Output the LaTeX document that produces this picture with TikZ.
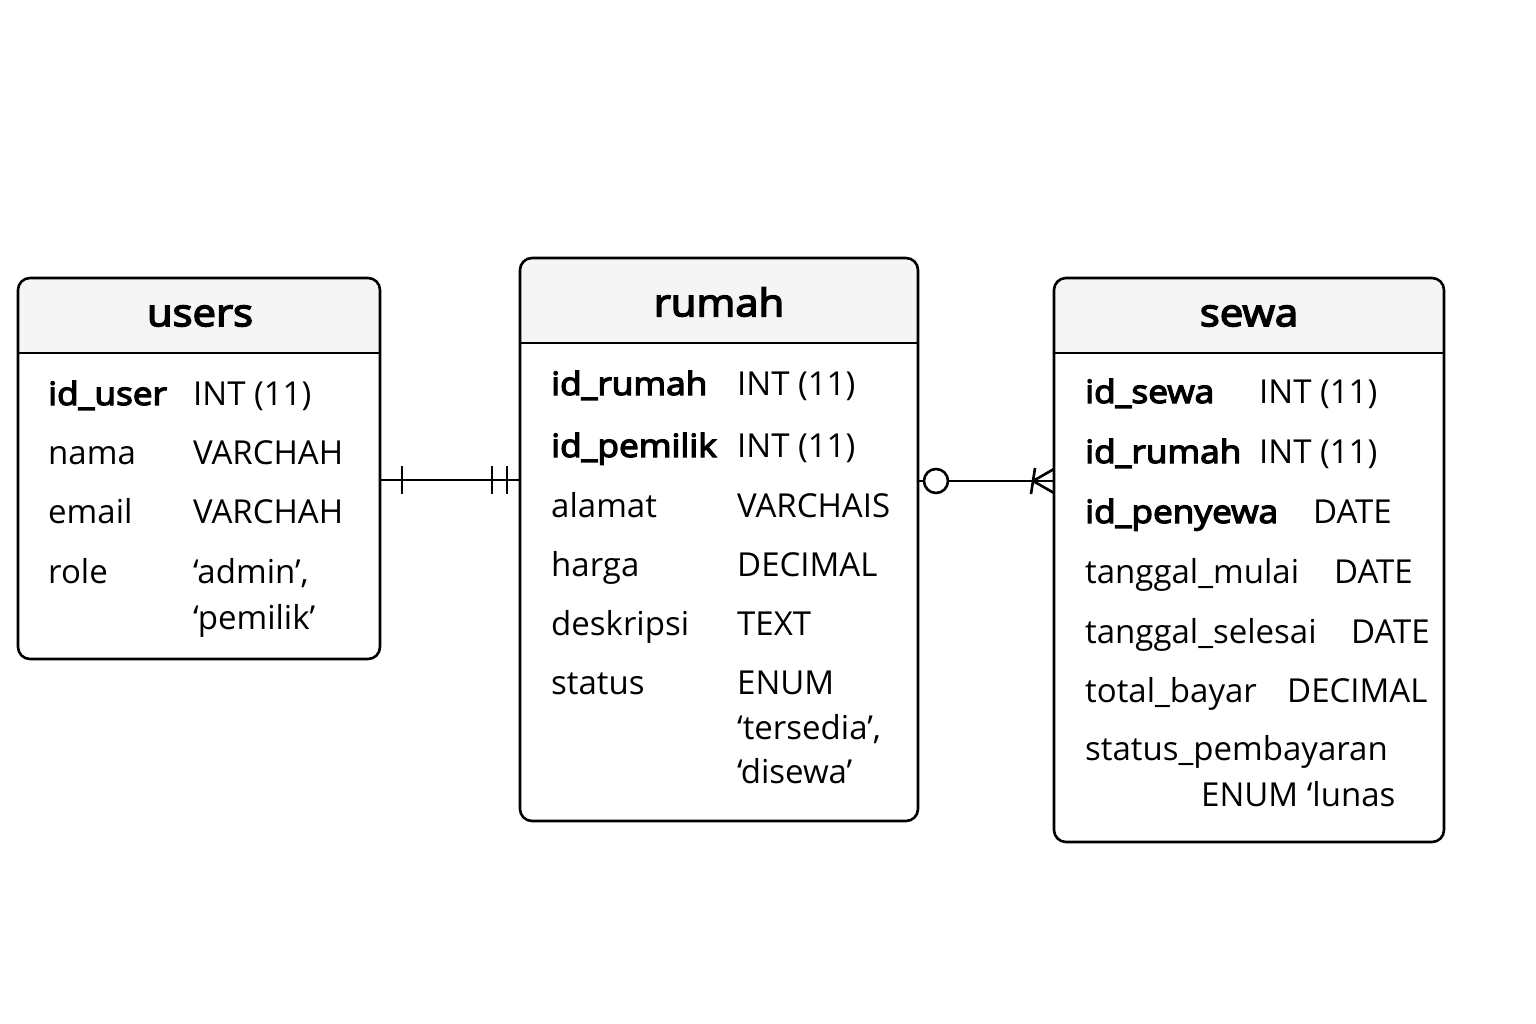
\documentclass[tikz,border=0pt]{standalone}
\usepackage{fontspec}
\setmainfont{Open Sans}[AutoFakeBold=4]
\newfontfamily\keyfont{Open Sans}[FakeBold=4, FakeStretch=1.1]
\usepackage{tikz}

\definecolor{hdrgray}{HTML}{F5F5F5}

\tikzset{
	tblframe/.style={line width=2.6, rounded corners=12},
	tblhead/.style={font=\fontsize{38}{44}\keyfont},
	colname/.style={anchor=base west, inner sep=0, font=\fontsize{33}{39}\selectfont},
	colkey/.style={colname, font=\fontsize{32}{39}\keyfont},
	coltype/.style={colname},
	relline/.style={line width=2.6}
}

\begin{document}
\begin{tikzpicture}[x=1pt, y=-1pt]
	\useasboundingbox (0,0) rectangle (1536,1024);
	% users
	\begin{scope}
		\clip[rounded corners=12] (18,278) rectangle (380,659);
		\fill[hdrgray] (18,278) rectangle (380,353);
	\end{scope}
	\draw[tblframe] (18,278) rectangle (380,659);
	\draw[relline] (18,353)--(380,353);
	\node[tblhead] (usersT) at (200,316) {users};
	\node[colkey] (uIdUser) at (48,405) {id\_user};
	\node[coltype] (uIdUserT) at (193,405) {INT (11)};
	\node[colname] (uNama) at (48,464) {nama};
	\node[coltype] (uNamaT) at (193,464) {VARCHAH};
	\node[colname] (uEmail) at (48,523) {email};
	\node[coltype] (uEmailT) at (193,523) {VARCHAH};
	\node[colname] (uRole) at (48,583) {role};
	\node[coltype] (uRoleT) at (193,583) {‘admin’,};
	\node[coltype] (uRoleT2) at (193,629) {‘pemilik’};

	% rumah
	\begin{scope}
		\clip[rounded corners=12] (520,258) rectangle (918,821);
		\fill[hdrgray] (520,258) rectangle (918,343);
	\end{scope}
	\draw[tblframe] (520,258) rectangle (918,821);
	\draw[relline] (520,343)--(918,343);
	\node[tblhead] (rumahT) at (719,302) {rumah};
	\node[colkey] (rIdRumah) at (551,395) {id\_rumah};
	\node[coltype] (rIdRumahT) at (737,395) {INT (11)};
	\node[colkey] (rIdPemilik) at (551,457) {id\_pemilik};
	\node[coltype] (rIdPemilikT) at (737,457) {INT (11)};
	\node[colname] (rAlamat) at (551,517) {alamat};
	\node[coltype] (rAlamatT) at (737,517) {VARCHAIS};
	\node[colname] (rHarga) at (551,576) {harga};
	\node[coltype] (rHargaT) at (737,576) {DECIMAL};
	\node[colname] (rDesk) at (551,635) {deskripsi};
	\node[coltype] (rDeskT) at (737,635) {TEXT};
	\node[colname] (rStatus) at (551,694) {status};
	\node[coltype] (rStatusT) at (737,694) {ENUM};
	\node[coltype] (rStatusT2) at (737,739) {‘tersedia’,};
	\node[coltype] (rStatusT3) at (737,783) {‘disewa’};

	% sewa
	\begin{scope}
		\clip[rounded corners=12] (1054,278) rectangle (1444,842);
		\fill[hdrgray] (1054,278) rectangle (1444,353);
	\end{scope}
	\draw[tblframe] (1054,278) rectangle (1444,842);
	\draw[relline] (1054,353)--(1444,353);
	\node[tblhead] (sewaT) at (1249,316) {sewa};
	\node[colkey] (sIdSewa) at (1085,403) {id\_sewa};
	\node[coltype] (sIdSewaT) at (1259,403) {INT (11)};
	\node[colkey] (sIdRumah) at (1085,463) {id\_rumah};
	\node[coltype] (sIdRumahT) at (1259,463) {INT (11)};
	\node[colkey] (sIdPenyewa) at (1085,523) {id\_penyewa};
	\node[coltype] (sIdPenyewaT) at (1313,523) {DATE};
	\node[colname] (sMulai) at (1085,583) {tanggal\_mulai};
	\node[coltype] (sMulaiT) at (1334,583) {DATE};
	\node[colname] (sSelesai) at (1085,643) {tanggal\_selesai};
	\node[coltype] (sSelesaiT) at (1351,643) {DATE};
	\node[colname] (sTotal) at (1085,702) {total\_bayar};
	\node[coltype] (sTotalT) at (1287,702) {DECIMAL};
	\node[colname] (sStatus) at (1085,760) {status\_pembayaran};
	\node[coltype] (sStatusT) at (1201,806) {ENUM ‘lunas};

	% users -- rumah (one and only one)
	\coordinate (ur1) at (380,480);
	\coordinate (ur2) at (520,480);
	\draw[relline] (ur1)--(ur2);
	\draw[relline] (402,466)--(402,494);
	\draw[relline] (492,466)--(492,494);
	\draw[relline] (507,466)--(507,494);

	% rumah -- sewa (zero or many)
	\coordinate (rs1) at (918,481);
	\coordinate (rs2) at (1054,481);
	\node[draw, circle, line width=2.6, fill=white, minimum size=24, inner sep=0] (rsO) at (936,481) {};
	\draw[relline] (rs1)--(rsO.west);
	\draw[relline] (rsO.east)--(rs2);
	\draw[relline] (1035,468)--(1031,494);
	\draw[relline] (1033,481)--(1054,469);
	\draw[relline] (1033,481)--(1054,493);
\end{tikzpicture}
\end{document}
